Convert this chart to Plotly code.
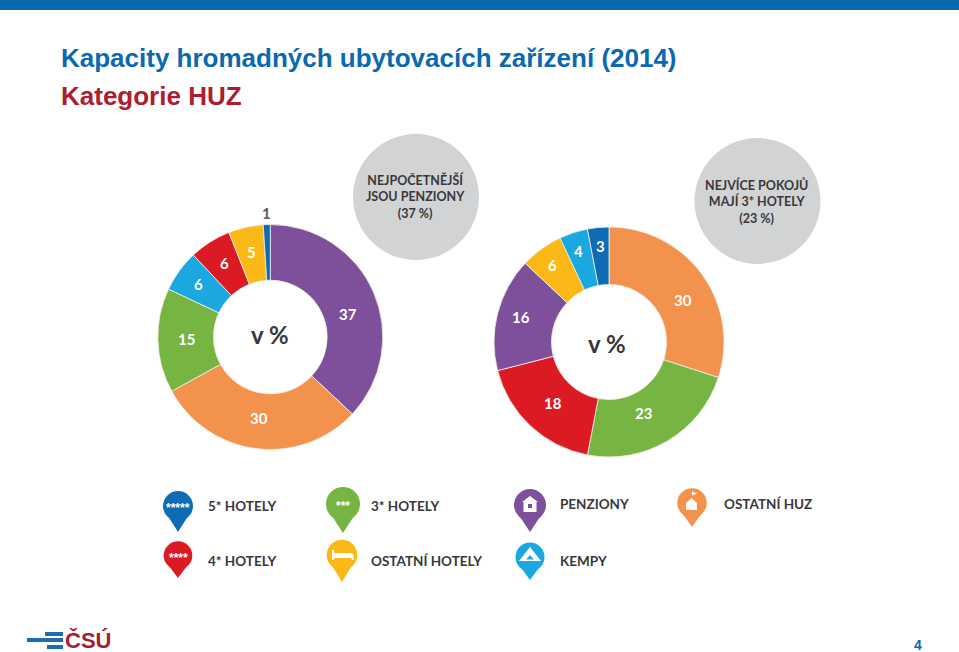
#!/usr/bin/env python3
"""Kapacity hromadnych ubytovacich zarizeni (2014) - two donuts with a pin legend"""

import plotly.graph_objects as go

W, H = 959, 652

BLUE = '#0d6cb3'
CYAN = '#1ba7e0'
RED = '#db1a23'
YELLOW = '#fbb917'
GREEN = '#77b543'
ORANGE = '#f2924c'
PURPLE = '#7e4f9a'
DARK = '#38383a'

# clockwise from 12 o'clock
left_values = [37, 30, 15, 6, 6, 5, 1]
left_colors = [PURPLE, ORANGE, GREEN, CYAN, RED, YELLOW, BLUE]
right_values = [30, 23, 18, 16, 6, 4, 3]
right_colors = [ORANGE, GREEN, RED, PURPLE, YELLOW, CYAN, BLUE]

legend_labels = ['5* HOTELY', '3* HOTELY', 'PENZIONY', 'OSTATNÍ HUZ',
                 '4* HOTELY', 'OSTATNÍ HOTELY', 'KEMPY']
legend_colors = [BLUE, GREEN, PURPLE, ORANGE, RED, YELLOW, CYAN]
legend_stars = ['*****', '***', '', '', '****', '', '']

# where the slice numbers sit on the page (hand placed in the original)
left_label_pos = [(348, 314), (259, 418), (186, 339), (198, 284), (224, 263), (251, 252), (266.5, 213)]
right_label_pos = [(683, 300), (643, 413), (553, 403), (521, 317), (552, 265), (578, 251), (600, 246)]

# pin geometry in page pixels: circle x, circle y, radius, tip y, label x, label y
pins = [
    (178, 506, 15, 532, 206, 506),
    (343, 504, 17, 533, 369, 506),
    (530, 505, 16, 532, 558, 504),
    (692, 503, 14.7, 527, 722, 504),
    (178, 555.5, 14.3, 578, 206, 561),
    (342, 555, 15.3, 582, 369, 561),
    (530, 557, 14.5, 580, 558, 561),
]


def px(x):
    return x / W


def py(y):
    return 1 - y / H


def poly(points):
    return 'M ' + ' L '.join(f'{px(x):.5f},{py(y):.5f}' for x, y in points) + ' Z'


def box(x0, y0, x1, y1, color, kind='rect'):
    return dict(type=kind, xref='paper', yref='paper', x0=px(x0), x1=px(x1),
                y0=py(y0), y1=py(y1), fillcolor=color, line_width=0, layer='above')


def path(points, color):
    return dict(type='path', xref='paper', yref='paper', path=poly(points),
                fillcolor=color, line_width=0, layer='above')


def note(text, x, y, size, color=DARK, family='Lato', anchor='left'):
    return dict(text=text, xref='paper', yref='paper', x=px(x), y=py(y), showarrow=False,
                xanchor=anchor, yanchor='middle', align='center',
                font=dict(size=size, color=color, family=family))


def donut(values, colors, cx, cy, r, hole):
    return go.Pie(
        values=values,
        textinfo='none',
        marker=dict(colors=colors, line=dict(color='#f4f0ea', width=0.8)),
        hole=hole,
        sort=False,
        direction='clockwise',
        rotation=0,
        showlegend=False,
        domain=dict(x=[px(cx - r), px(cx + r)], y=[py(cy + r), py(cy - r)]),
    )


fig = go.Figure()
fig.add_trace(donut(left_values, left_colors, 270.3, 337, 112.5, 0.505))
fig.add_trace(donut(right_values, right_colors, 609, 342, 115, 0.5))

shapes = [
    box(0, 0, W, 10, '#0b69ae'),
    # grey bubbles
    box(353, 134, 479, 260, '#d2d3d5', 'circle'),
    box(694.5, 138, 820.5, 264, '#d2d3d5', 'circle'),
    # logo bars
    box(45, 632, 63, 636, '#1c6db1'),
    box(27, 638, 63, 642, '#1c6db1'),
    box(47, 645, 63, 649, '#1c6db1'),
]

annotations = [
    note('<b>Kapacity hromadných ubytovacích zařízení (2014)</b>', 59, 58, 26, '#0b69ae', 'Liberation Sans'),
    note('<b>Kategorie HUZ</b>', 59, 96, 26, '#ae1c30', 'Liberation Sans'),
    note('<b>NEJPOČETNĚJŠÍ<br>JSOU PENZIONY<br>(37 %)</b>', 415, 197, 12.5, anchor='center'),
    note('<b>NEJVÍCE POKOJŮ<br>MAJÍ 3* HOTELY<br>(23 %)</b>', 756, 201, 12.5, anchor='center'),
    note('<b>v %</b>', 270, 334, 24, anchor='center'),
    note('<b>v %</b>', 607, 343, 24, anchor='center'),
    note('<b>ČSÚ</b>', 63, 640, 22, '#a31f34', 'Liberation Sans'),
    note('<b>4</b>', 918, 645, 14, '#0b69ae', 'Liberation Sans', 'center'),
]

for values, positions in ((left_values, left_label_pos), (right_values, right_label_pos)):
    for value, (x, y) in zip(values, positions):
        # the 1 % slice is too thin, its number stands outside the ring
        color = '#58595b' if value == 1 else 'white'
        annotations.append(note(f'<b>{value}</b>', x, y, 15, color, anchor='center'))

for (cx, cy, r, tip, lx, ly), label, color, stars in zip(pins, legend_labels, legend_colors, legend_stars):
    shapes.append(box(cx - r, cy - r, cx + r, cy + r, color, 'circle'))
    half = r * 0.62
    shapes.append(path([(cx - half, cy + r * 0.75), (cx + half, cy + r * 0.75), (cx, tip)], color))
    annotations.append(note(f'<b>{label}</b>', lx, ly, 13.5))
    if stars:
        annotations.append(note(f'<b>{stars}</b>', cx, cy + 2, 12, 'white', 'Liberation Sans', 'center'))

# white icons inside the pins
shapes += [
    # bed
    path([(332, 550), (334, 550), (334, 553), (352, 553), (353.5, 555), (353.5, 560), (351.5, 560),
          (351.5, 558), (334, 558), (334, 560), (332, 560)], 'white'),
    # boarding house
    path([(530, 496), (538, 502), (536.5, 502), (536.5, 512), (523.5, 512), (523.5, 502), (522, 502)], 'white'),
    box(528, 504, 532, 508, PURPLE),
    # other accommodation, with flag
    path([(691.5, 498), (697, 503), (697, 510), (686, 510), (686, 503)], 'white'),
    path([(692, 491.5), (697, 493.5), (692, 495.5)], 'white'),
    # tent
    path([(530, 547), (541, 561), (519, 561)], 'white'),
    path([(530, 555), (534, 559.5), (526, 559.5)], CYAN),
]

fig.update_layout(
    width=W,
    height=H,
    margin=dict(l=0, r=0, t=0, b=0),
    paper_bgcolor='white',
    plot_bgcolor='white',
    shapes=shapes,
    annotations=annotations,
)

# the page body has a default margin, the chart should fill the window
fig.write_html("out.html", config=dict(displayModeBar=False),
               post_script="document.body.style.margin = '0';")
